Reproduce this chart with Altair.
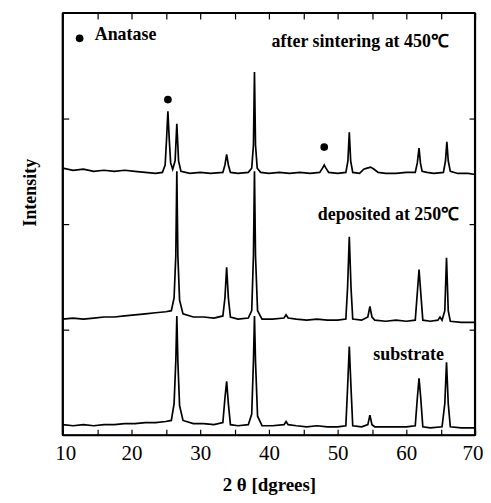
import altair as alt
import pandas as pd

# ---- data (2θ in degrees, intensity in arbitrary units) ----
sinter_2theta = [10.0, 11.5, 13.0, 14.5, 16.0, 17.5, 19.0, 20.5, 22.0, 23.5, 24.5, 24.9, 25.1, 25.3, 25.5, 25.7,
                 26.0, 26.35, 26.6, 26.85, 27.2, 28.5, 30.0, 31.5, 33.3, 33.6, 33.85, 34.1, 34.4, 35.5, 37.0, 37.5,
                 37.75, 37.9, 38.05, 38.3, 38.8, 40.0, 41.5, 43.0, 44.5, 46.0, 47.4, 47.8, 48.05, 48.3, 48.7, 50.0,
                 51.2, 51.5, 51.7, 51.9, 52.2, 53.2, 53.8, 54.3, 54.8, 55.3, 55.9, 57.0, 58.5, 60.0, 61.3, 61.6,
                 61.85, 62.05, 62.3, 63.0, 64.0, 65.4, 65.7, 65.9, 66.1, 66.4, 67.5, 69.0, 70.0]
sinter_int = [2.53, 2.51, 2.52, 2.50, 2.51, 2.50, 2.51, 2.50, 2.49, 2.48, 2.49, 2.56, 2.80, 3.07, 2.80, 2.58,
              2.52, 2.60, 2.95, 2.60, 2.50, 2.48, 2.49, 2.48, 2.49, 2.56, 2.66, 2.56, 2.49, 2.48, 2.49, 2.53,
              2.75, 3.44, 2.75, 2.53, 2.49, 2.48, 2.49, 2.48, 2.49, 2.48, 2.49, 2.53, 2.56, 2.53, 2.49, 2.48,
              2.49, 2.60, 2.87, 2.60, 2.49, 2.48, 2.52, 2.53, 2.54, 2.52, 2.49, 2.48, 2.48, 2.49, 2.49, 2.58,
              2.72, 2.58, 2.50, 2.49, 2.48, 2.49, 2.60, 2.78, 2.60, 2.50, 2.48, 2.48, 2.47]

deposit_2theta = [10.0, 11.5, 13.0, 14.5, 16.0, 17.5, 19.0, 20.5, 22.0, 23.5, 25.0, 25.8, 26.2, 26.45, 26.6, 26.75,
                  27.0, 27.5, 29.0, 30.5, 32.0, 33.3, 33.6, 33.85, 34.1, 34.4, 35.5, 37.0, 37.5, 37.75, 37.9, 38.05,
                  38.35, 39.0, 40.5, 42.2, 42.5, 42.8, 44.0, 45.5, 47.0, 48.5, 50.0, 51.2, 51.45, 51.7, 51.95, 52.2,
                  53.5, 54.4, 54.7, 55.0, 55.4, 57.0, 58.5, 60.0, 61.3, 61.6, 61.85, 62.1, 62.4, 63.5, 64.6, 64.9,
                  65.2, 65.6, 65.85, 66.1, 66.4, 68.0, 70.0]
deposit_int = [1.10, 1.11, 1.10, 1.11, 1.12, 1.12, 1.13, 1.14, 1.15, 1.16, 1.17, 1.18, 1.30, 1.70, 2.50, 1.70,
               1.28, 1.15, 1.12, 1.12, 1.11, 1.13, 1.30, 1.59, 1.30, 1.12, 1.10, 1.11, 1.18, 1.70, 2.50, 1.70,
               1.18, 1.10, 1.10, 1.11, 1.14, 1.11, 1.10, 1.09, 1.10, 1.09, 1.09, 1.10, 1.40, 1.88, 1.40, 1.10,
               1.09, 1.12, 1.22, 1.12, 1.09, 1.08, 1.09, 1.08, 1.09, 1.35, 1.57, 1.35, 1.09, 1.08, 1.09, 1.12,
               1.09, 1.18, 1.68, 1.18, 1.08, 1.07, 1.07]

substrate_2theta = [10.0, 11.5, 13.0, 14.5, 16.0, 17.5, 19.0, 20.5, 22.0, 23.5, 25.0, 25.8, 26.2, 26.45, 26.6, 26.75,
                    27.0, 27.5, 29.0, 30.5, 32.0, 33.3, 33.6, 33.85, 34.1, 34.4, 35.5, 37.0, 37.5, 37.75, 37.9, 38.05,
                    38.35, 39.0, 40.5, 42.2, 42.5, 42.8, 44.0, 45.5, 47.0, 48.5, 50.0, 51.2, 51.45, 51.7, 51.95, 52.2,
                    53.5, 54.4, 54.7, 55.0, 55.4, 57.0, 58.5, 60.0, 61.3, 61.6, 61.85, 62.1, 62.4, 63.5, 65.2, 65.6,
                    65.85, 66.1, 66.4, 68.0, 70.0]
substrate_int = [0.10, 0.09, 0.10, 0.09, 0.10, 0.10, 0.11, 0.11, 0.12, 0.12, 0.13, 0.14, 0.30, 0.70, 1.13, 0.70,
                 0.28, 0.14, 0.11, 0.11, 0.10, 0.12, 0.35, 0.51, 0.30, 0.10, 0.09, 0.10, 0.20, 0.70, 1.13, 0.70,
                 0.18, 0.09, 0.09, 0.10, 0.13, 0.10, 0.09, 0.08, 0.09, 0.08, 0.08, 0.09, 0.45, 0.84, 0.45, 0.09,
                 0.08, 0.10, 0.19, 0.10, 0.08, 0.08, 0.08, 0.08, 0.09, 0.35, 0.54, 0.35, 0.08, 0.07, 0.08, 0.30,
                 0.69, 0.30, 0.08, 0.07, 0.07]

series_names = ["after sintering at 450℃", "deposited at 250℃", "substrate"]

# anatase peak markers (and the legend dot)
anatase_2theta = [25.3, 48.05, 12.45]
anatase_int = [3.18, 2.73, 3.76]

# annotation texts
left_texts = ["Anatase", "substrate"]
left_text_x = [14.65, 55.2]
left_text_y = [3.74, 0.71]
right_texts = ["after sintering at 450℃", "deposited at 250℃"]
right_text_x = [66.2, 67.7]
right_text_y = [3.68, 2.04]

tick_values_x = list(range(10, 71, 5))
tick_values_y = [1, 2, 3]

# plot frame edges, in data units (the full axis ranges)
frame_x = [10.0, 70.0, 10.0, 10.0]
frame_x2 = [10.0, 70.0, 70.0, 70.0]
frame_y = [0.0, 0.0, 0.0, 4.0]
frame_y2 = [4.0, 4.0, 0.0, 4.0]

# ---- build tables ----
rows = []
for name, xs_, ys_ in zip(series_names,
                          [sinter_2theta, deposit_2theta, substrate_2theta],
                          [sinter_int, deposit_int, substrate_int]):
    for i, (a, b) in enumerate(zip(xs_, ys_)):
        rows.append({"series": name, "two_theta": a, "intensity": b, "order": i})
df = pd.DataFrame(rows)
marks_df = pd.DataFrame({"two_theta": anatase_2theta, "intensity": anatase_int})
left_df = pd.DataFrame({"two_theta": left_text_x, "intensity": left_text_y, "label": left_texts})
right_df = pd.DataFrame({"two_theta": right_text_x, "intensity": right_text_y, "label": right_texts})
frame_df = pd.DataFrame({"two_theta": frame_x, "two_theta_end": frame_x2,
                         "intensity": frame_y, "intensity_end": frame_y2})

SERIF = "Liberation Serif"
xs = alt.Scale(domain=[10, 70], nice=False, zero=False)
ys = alt.Scale(domain=[0, 4], nice=False, zero=False)

TICK = dict(tickSize=6, offset=-6, domain=False, grid=False, tickColor="black", tickWidth=1.2)

x_bottom = alt.Axis(orient="bottom", values=tick_values_x,
                    labelExpr="datum.value % 10 == 0 ? datum.label : ''",
                    labelFlush=True, labelFlushOffset=8, labelOverlap=False,
                    labelFont=SERIF, labelFontSize=21, labelColor="black", labelPadding=7,
                    title="2 θ  [dgrees]", titleFont=SERIF, titleFontSize=19, titleFontWeight="bold",
                    titleColor="black", titlePadding=13, **TICK)
y_left = alt.Axis(orient="left", values=tick_values_y, labels=False,
                  title="Intensity", titleFont=SERIF, titleFontSize=18, titleFontWeight="bold",
                  titleColor="black", titlePadding=23, titleY=180, **TICK)
x_top = alt.Axis(orient="top", values=tick_values_x, labels=False, title="", **TICK)
y_right = alt.Axis(orient="right", values=tick_values_y, labels=False, title="", **TICK)

lines = alt.Chart(df).mark_line(color="black", strokeWidth=1.7).encode(
    x=alt.X("two_theta:Q", scale=xs, axis=x_bottom),
    y=alt.Y("intensity:Q", scale=ys, axis=y_left),
    detail="series:N",
    order="order:Q",
)

tick_layer = alt.Chart(marks_df).mark_point(opacity=0).encode(
    x=alt.X("two_theta:Q", scale=xs, axis=x_top),
    y=alt.Y("intensity:Q", scale=ys, axis=y_right),
)

dots = alt.Chart(marks_df).mark_point(filled=True, color="black", size=60, opacity=1).encode(
    x=alt.X("two_theta:Q", scale=xs, axis=None),
    y=alt.Y("intensity:Q", scale=ys, axis=None),
)

ltext = alt.Chart(left_df).mark_text(align="left", baseline="alphabetic", font=SERIF,
                                     fontSize=18, fontWeight="bold", color="black").encode(
    x=alt.X("two_theta:Q", scale=xs, axis=None),
    y=alt.Y("intensity:Q", scale=ys, axis=None),
    text="label:N",
)
rtext = alt.Chart(right_df).mark_text(align="right", baseline="alphabetic", font=SERIF,
                                      fontSize=18, fontWeight="bold", color="black").encode(
    x=alt.X("two_theta:Q", scale=xs, axis=None),
    y=alt.Y("intensity:Q", scale=ys, axis=None),
    text="label:N",
)

frame = alt.Chart(frame_df).mark_rule(color="black", strokeWidth=2.2, opacity=1).encode(
    x=alt.X("two_theta:Q", scale=xs, axis=None),
    x2="two_theta_end:Q",
    y=alt.Y("intensity:Q", scale=ys, axis=None),
    y2="intensity_end:Q",
)

chart = alt.layer(frame, lines, tick_layer, dots, ltext, rtext).resolve_axis(
    x="independent", y="independent"
).properties(
    width=414, height=424, autosize="none",
    padding={"left": 55, "top": 4, "right": 8, "bottom": 59},
).configure_view(stroke="black", strokeWidth=1.6)

chart.save("out.html", embed_options={"renderer": "svg", "actions": False})
